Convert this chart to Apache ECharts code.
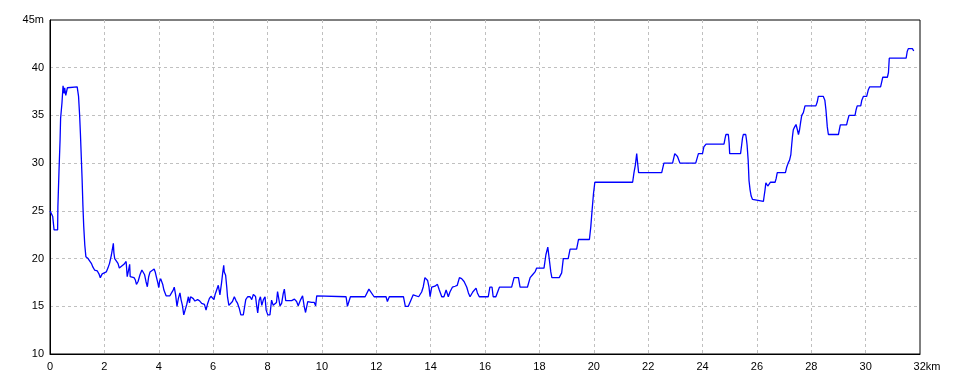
<!DOCTYPE html>
<html>
<head>
<meta charset="utf-8">
<script src="https://cdn.jsdelivr.net/npm/echarts@6/dist/echarts.min.js"></script>
<style>
html,body{margin:0;padding:0;background:#fff;}
#chart{width:960px;height:384px;}
</style>
</head>
<body>
<div id="chart"></div>
<script>
const distKm = [
0.0,0.1,0.15,0.28,0.29,0.33,0.37,0.39,0.44,0.48,0.52,0.54,0.58,0.64,0.69,1.0,1.05,1.09,1.12,1.15,1.18,1.21,1.24,1.28,1.32,1.4,1.46,1.52,1.58,1.64,1.74,1.8,1.85,1.92,1.99,2.07,2.13,2.19,2.26,2.29,2.33,2.35,2.38,2.45,2.5,2.55,2.62,2.72,2.8,2.84,2.89,2.93,2.95,2.99,3.09,3.14,3.18,3.24,3.31,3.38,3.43,3.48,3.53,3.58,3.63,3.68,3.75,3.83,3.87,3.91,3.97,4.0,
4.03,4.07,4.11,4.15,4.19,4.27,4.41,4.47,4.53,4.57,4.62,4.67,4.72,4.78,4.82,4.87,4.92,4.97,5.03,5.09,5.13,5.17,5.21,5.27,5.33,5.43,5.51,5.58,5.68,5.74,5.8,5.86,5.92,5.98,6.03,
6.07,6.13,6.19,6.25,6.31,6.35,6.39,6.41,6.46,6.5,6.53,6.58,6.63,6.71,6.78,6.84,6.9,6.96,7.02,7.11,7.15,7.2,7.27,7.36,7.42,7.48,7.56,7.6,7.64,7.69,7.74,7.79,7.85,7.91,
7.95,8.01,8.09,8.15,8.21,8.28,8.33,8.37,8.42,8.46,8.52,8.58,8.62,8.67,8.89,8.99,9.07,9.13,9.22,9.29,9.35,9.4,9.48,9.53,9.62,9.72,9.77,9.81,
10.89,10.94,11.05,11.59,11.73,11.92,12.36,12.41,12.48,13.0,13.07,13.18,13.36,13.43,13.56,13.67,13.73,13.79,13.89,13.94,13.98,14.04,14.16,14.25,14.32,14.41,14.49,14.57,14.65,14.71,14.8,14.9,14.98,15.06,15.14,15.23,15.33,15.39,15.45,15.55,15.67,15.72,15.79,
16.12,16.18,16.26,16.3,16.4,16.53,16.98,17.07,17.23,17.29,17.56,17.66,17.75,17.84,17.9,18.17,18.24,18.31,18.37,18.42,18.46,18.73,18.82,18.88,19.06,19.13,19.37,19.44,19.84,19.89,19.94,19.99,20.04,
21.43,21.48,21.53,21.58,21.6,21.65,22.5,22.58,22.9,22.98,23.08,23.17,23.75,23.85,24.0,24.05,24.13,24.79,24.83,24.86,24.95,24.98,25.0,25.4,25.44,25.47,25.5,25.59,25.62,25.64,25.68,25.71,25.75,25.79,25.84,25.87,
26.24,26.26,26.3,26.33,26.4,26.45,26.5,26.67,26.71,26.75,27.05,27.1,27.15,27.2,27.25,27.28,27.31,27.34,27.39,27.44,27.49,27.53,27.57,27.61,27.65,27.71,27.77,
28.17,28.22,28.26,28.44,28.5,28.54,28.59,28.63,29.0,29.04,29.07,29.3,29.34,29.39,29.61,29.65,29.69,29.82,29.86,29.92,30.04,30.1,30.15,30.55,30.59,30.63,30.8,30.84,30.87,31.49,31.53,31.57,31.72,31.77
];
const elevM = [
25,24.4,23,23,25.4,29.1,32.4,34.7,36.3,38.1,37.3,37.9,37.1,37.9,38,38,37,35,33,30.7,28.4,25.6,23.4,21.4,20.2,20,19.9,19.5,19.1,18.8,18.7,18.4,18,18.4,18.6,18.6,19,19.5,20.4,20.9,21.6,20.6,20,20,19.5,19,19.15,19.4,19.7,18.1,18.8,19.4,18.1,18,18,17.75,17.3,17.6,18.3,18.8,18.9,18.3,17.6,17.05,18.1,18.6,18.6,18.9,18.6,18.1,17.4,16.95,
17.6,17.9,18.1,17.25,16.7,16.1,16.1,16.4,16.7,17,16.2,15,15.8,16.4,15.7,15.1,14.1,14.6,15.2,16,15.35,16,16,15.8,15.55,15.7,15.55,15.3,15.2,14.6,15.3,15.8,16.05,16,15.7,
16.2,16.7,17.2,16.2,17.45,18.45,19.3,18.6,18.25,17.05,15.95,15.1,15.05,15.5,16,15.6,15.3,14.8,14.1,14.1,14.8,15.7,16,16,15.7,16.25,16.03,15.1,14.3,15.6,16,15.1,15.7,16,
14.6,14.1,14.1,15.65,15.1,15,15.4,16.55,16.7,15.05,15.3,16.35,16.8,15.6,15.6,15.75,15.5,15.05,15.7,16.1,15,14.35,15.5,15.7,15.4,15.4,15.05,16.1,
16,15,16,16,16.8,16,16,15.5,16,16,15,15,16.2,16,16,16.5,17.05,18,17.7,17,16,17,17.1,17.3,16.7,16,16,16.7,16,16.5,17,17.1,17.2,18,17.9,17.6,17,16.4,16,16.5,16.9,16.4,16,
16,17,17,16,16,17,17,18,18,17,17,18,18.3,18.6,19,19,20.4,21.2,19.8,18.6,18,18,18.5,20,20,21,21,22,22,23.3,25.1,26.8,28,
28,29,29.8,31,30.4,29,29,30,30,31,30.7,30,30,31,31,31.7,32,32,32.6,33,33,32.1,31,31,31.9,32.6,33,33,32.4,31.9,30.3,28.2,27.2,26.55,26.2,26,
26,26.4,27.2,27.95,27.6,27.8,28,28,28.4,29,29,29.6,30,30.3,30.9,31.9,32.8,33.5,33.8,34.05,33.5,33,33.5,34.3,35,35.3,36,
36,36.4,37,37,36.6,35.6,33.8,33,33,33.6,34,34,34.5,35,35,35.6,36,36,36.6,37,37,37.7,38,38,38.5,39,39,39.5,41,41,41.7,42,42,41.75
];
const xMin = 0, xMax = 32, xStep = 2, xUnit = 'km';
const yMin = 10, yMax = 45, yStep = 5, yUnit = 'm';

const points = distKm.map((d, i) => [d, elevM[i]]);
const chart = echarts.init(document.getElementById('chart'), null, {renderer: 'canvas'});
const labelFont = {color: '#000', fontSize: 11, fontFamily: 'Liberation Sans, DejaVu Sans, sans-serif'};
chart.setOption({
  animation: false,
  backgroundColor: '#fff',
  grid: {left: 50, right: 40, top: 20, bottom: 30, show: true, borderColor: '#000', borderWidth: 1, backgroundColor: '#fff'},
  xAxis: {
    type: 'value', min: xMin, max: xMax, interval: xStep,
    axisLine: {show: true, lineStyle: {color: '#000', width: 1}},
    axisTick: {show: false},
    axisLabel: Object.assign({}, labelFont, {
      margin: 7,
      formatter: v => v === xMax ? '{u|' + v + xUnit + '}' : String(v),
      rich: {u: Object.assign({}, labelFont, {padding: [0, 0, 0, 14]})}
    }),
    splitLine: {show: true, showMinLine: false, showMaxLine: false, lineStyle: {color: '#c0c0c0', type: [3, 3], width: 1}}
  },
  yAxis: {
    type: 'value', min: yMin, max: yMax, interval: yStep,
    axisLine: {show: true, lineStyle: {color: '#000', width: 1}},
    axisTick: {show: false},
    axisLabel: Object.assign({}, labelFont, {
      margin: 6,
      formatter: v => v === yMax ? v + yUnit : String(v)
    }),
    splitLine: {show: true, showMinLine: false, showMaxLine: false, lineStyle: {color: '#c0c0c0', type: [3, 3], width: 1}}
  },
  series: [{
    type: 'line',
    data: points,
    showSymbol: false,
    symbol: 'none',
    lineStyle: {color: '#0000ff', width: 1.3},
    emphasis: {disabled: true}
  }]
});
</script>
</body>
</html>
